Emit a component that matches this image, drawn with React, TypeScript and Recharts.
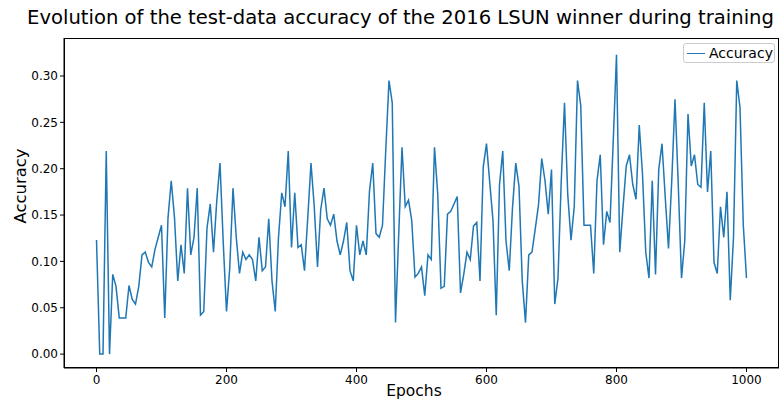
import React from 'react';
import { LineChart, Line, XAxis, YAxis } from 'recharts';

const epochs: number[] = [];
for (let e = 0; e <= 1000; e += 5) epochs.push(e);

// accuracy, one value per 5 epochs
const accuracy = [
  0.123, 0, 0, 0.219, 0, 0.086, 0.073, 0.039, 0.039, 0.039,
  0.074, 0.059, 0.054, 0.073, 0.107, 0.110, 0.099, 0.094, 0.113, 0.126,
  0.139, 0.039, 0.147, 0.187, 0.147, 0.079, 0.118, 0.087, 0.179, 0.107,
  0.126, 0.179, 0.042, 0.046, 0.136, 0.162, 0.110, 0.165, 0.206, 0.120,
  0.046, 0.093, 0.179, 0.126, 0.087, 0.110, 0.102, 0.107, 0.102, 0.079,
  0.126, 0.090, 0.094, 0.146, 0.079, 0.046, 0.126, 0.174, 0.159, 0.219,
  0.115, 0.174, 0.115, 0.118, 0.090, 0.147, 0.206, 0.159, 0.094, 0.156,
  0.179, 0.146, 0.139, 0.151, 0.122, 0.107, 0.122, 0.142, 0.090, 0.079,
  0.139, 0.107, 0.122, 0.107, 0.176, 0.206, 0.130, 0.126, 0.139, 0.220,
  0.295, 0.271, 0.034, 0.130, 0.223, 0.159, 0.166, 0.144, 0.083, 0.087,
  0.094, 0.063, 0.107, 0.102, 0.223, 0.172, 0.071, 0.073, 0.151, 0.154,
  0.162, 0.170, 0.066, 0.086, 0.110, 0.102, 0.138, 0.142, 0.079, 0.202,
  0.227, 0.185, 0.144, 0.042, 0.183, 0.219, 0.122, 0.090, 0.158, 0.206,
  0.181, 0.079, 0.034, 0.107, 0.110, 0.135, 0.161, 0.211, 0.187, 0.151,
  0.199, 0.054, 0.082, 0.187, 0.271, 0.172, 0.123, 0.159, 0.295, 0.268,
  0.139, 0.139, 0.139, 0.087, 0.187, 0.215, 0.118, 0.154, 0.142, 0.230,
  0.323, 0.110, 0.158, 0.203, 0.215, 0.183, 0.167, 0.247, 0.194, 0.110,
  0.082, 0.187, 0.086, 0.199, 0.227, 0.169, 0.114, 0.187, 0.275, 0.183,
  0.082, 0.122, 0.259, 0.203, 0.215, 0.183, 0.180, 0.271, 0.175, 0.219,
  0.099, 0.087, 0.159, 0.126, 0.175, 0.058, 0.126, 0.295, 0.266, 0.140,
  0.082,
];

const xTicks = [0, 200, 400, 600, 800, 1000];
const yTicks = [0, 0.05, 0.1, 0.15, 0.2, 0.25, 0.3];

const data = epochs.map((e, i) => ({ epoch: e, acc: accuracy[i] }));

const FONT = '"DejaVu Sans", sans-serif';
const BLUE = '#1f77b4';

export default function App() {
  return (
    <div style={{ position: 'relative', width: 784, height: 401, background: '#fff', fontFamily: FONT }}>
      <style>{'body{margin:0}'}</style>
      <LineChart width={784} height={401} data={data} margin={{ top: 38, right: 5, bottom: 0, left: 0 }}>
        <XAxis
          dataKey="epoch"
          type="number"
          domain={[-50, 1050]}
          ticks={xTicks}
          tickSize={4}
          tickMargin={3}
          height={33}
          stroke="#000"
          tick={{ fill: '#000', fontSize: 12, fontFamily: FONT }}
        />
        <YAxis
          type="number"
          domain={[-0.015, 0.341]}
          ticks={yTicks}
          tickFormatter={(v: number) => v.toFixed(2)}
          tickSize={4}
          tickMargin={2}
          width={64}
          stroke="#000"
          tick={{ fill: '#000', fontSize: 12, fontFamily: FONT }}
        />
        <Line dataKey="acc" stroke={BLUE} strokeWidth={1.5} dot={false} isAnimationActive={false} />
      </LineChart>

      {/* box around plot area */}
      <div style={{ position: 'absolute', left: 64, top: 38, width: 715, height: 330, border: '1px solid #000', boxSizing: 'border-box', pointerEvents: 'none' }} />

      <div style={{ position: 'absolute', left: 27, top: 8, fontSize: 19.6, lineHeight: 1, whiteSpace: 'nowrap' }}>
        Evolution of the test-data accuracy of the 2016 LSUN winner during training
      </div>
      <div style={{ position: 'absolute', left: 414, top: 384, transform: 'translateX(-50%)', fontSize: 15.5, lineHeight: 1 }}>Epochs</div>
      <div style={{ position: 'absolute', left: 21, top: 186, transform: 'translate(-50%,-50%) rotate(-90deg)', fontSize: 16.4, lineHeight: 1, whiteSpace: 'nowrap' }}>Accuracy</div>

      <div style={{ position: 'absolute', left: 683, top: 43, width: 92, height: 20, border: '1px solid #ccc', borderRadius: 3, boxSizing: 'border-box', background: 'rgba(255,255,255,0.8)', display: 'flex', alignItems: 'center' }}>
        <div style={{ width: 18, height: 0, borderTop: `1.5px solid ${BLUE}`, marginLeft: 3, marginRight: 4 }} />
        <span style={{ fontSize: 14, lineHeight: 1 }}>Accuracy</span>
      </div>
    </div>
  );
}
